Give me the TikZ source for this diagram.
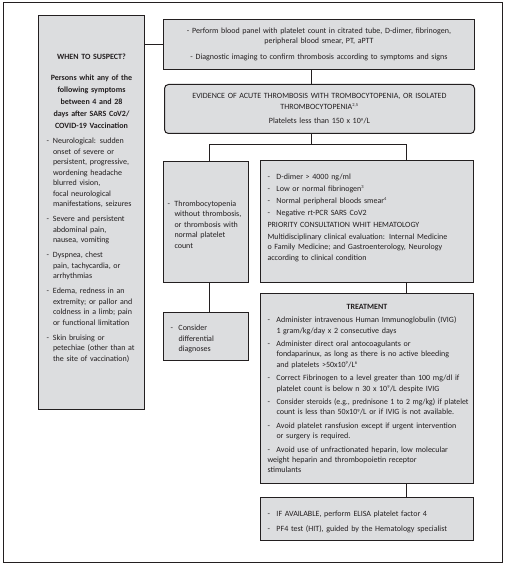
\documentclass[tikz,border=0pt]{standalone}
\usepackage{fontspec}
\setmainfont{Carlito}
\usepackage{xcolor}
\usepackage{graphicx}
\usepackage{tikz}
\usetikzlibrary{positioning}
\definecolor{ink}{RGB}{35,31,32}
\definecolor{boxgray}{RGB}{220,221,223}
\newcommand{\itm}[1][7pt]{\par\hangindent=#1\hangafter=1\makebox[#1][l]{-}\ignorespaces}
\newcommand{\sups}[1]{\textsuperscript{\fontsize{4.5}{5}\selectfont #1}}

\begin{document}
\begin{tikzpicture}[x=1pt,y=-1pt,line width=1pt,color=ink]
    \tikzstyle{box}=[draw=ink, fill=boxgray, anchor=north west, inner ysep=0pt, text=ink, font=\fontsize{8}{10.5}\selectfont, execute at begin node={\setlength{\parskip}{4pt}}]
    \useasboundingbox (0,0) rectangle (505,564);
    \draw (3,3) rectangle (502,562);

    \node [box, text width=90pt, inner xsep=8pt, minimum height=394pt, align=left,
        execute at begin node={\setlength{\parskip}{4.5pt}}] (susp) at (38,15) {%
        {\centering\bfseries WHEN TO SUSPECT?\par}
        \vspace{5pt}
        {\centering\bfseries\fontsize{8}{12}\selectfont Persons whit any of the\\ following symptoms\\ between 4 and 28\\ days after SARS CoV2/\\ COVID-19 Vaccination\par}
        \itm[6.5pt] Neurological: sudden\newline onset of severe or\newline persistent, progressive,\newline wordening headache\newline blurred vision,\newline focal neurological\newline manifestations, seizures
        \itm[6.5pt] Severe and persistent\newline abdominal pain,\newline nausea, vomiting
        \itm[6.5pt] Dyspnea, chest\newline pain, tachycardia, or\newline arrhythmias
        \itm[6.5pt] Edema, redness in an\newline extremity; or pallor and\newline coldness in a limb; pain\newline or functional limitation
        \itm[6.5pt] Skin bruising or\newline petechiae (other than at\newline the site of vaccination)
        \par\vspace{9pt}};

    \node [box, text width=303pt, inner xsep=4pt, minimum height=50pt, align=center,
        execute at begin node={\setlength{\parskip}{5.5pt}}] (panel) at (163,19) {%
        - Perform blood panel with platelet count in citrated tube, D-dimer, fibrinogen,\\ peripheral blood smear, PT, aPTT\par
        - Diagnostic imaging to confirm thrombosis according to symptoms and signs};

    \node [box, rounded corners=4pt, text width=302pt, inner xsep=4pt, minimum height=49pt, align=center] (evid) at (164,84) {%
        EVIDENCE OF ACUTE THROMBOSIS WITH TROMBOCYTOPENIA, OR ISOLATED\\ THROMBOCYTOPENIA\sups{2,5}\par
        Platelets less than 150 x 10\sups{9}/L};

    \node [box, text width=77pt, inner xsep=4pt, minimum height=121pt, align=left] (thromb) at (163,161) {%
        \itm[7pt] Thrombocytopenia\newline without thrombosis,\newline or thrombosis with\newline normal platelet\newline count
        \par\vspace{4pt}};

    \node [box, text width=71pt, inner xsep=7pt, minimum height=48pt, align=left] (diff) at (163,312) {%
        \itm[8pt] Consider\newline differential\newline diagnoses
        \par\vspace{4pt}};

    \node [box, text width=199pt, inner xsep=7pt, minimum height=122pt, align=left,
        execute at begin node={\setlength{\parskip}{1.5pt}}] (crit) at (260,160) {%
        \itm[9pt] D-dimer > 4000 ng/ml
        \itm[9pt] Low or normal fibrinogen\sups{3}
        \itm[9pt] Normal peripheral bloods smear\sups{4}
        \itm[9pt] Negative rt-PCR SARS CoV2
        \par PRIORITY CONSULTATION WHIT HEMATOLOGY
        \par Multidisciplinary clinical evaluation: Internal Medicine\\ o Family Medicine; and Gastroenterology, Neurology\\ according to clinical condition
        \par\vspace{14pt}};

    \node [box, text width=199pt, inner xsep=7pt, minimum height=190pt, align=left,
        font=\fontsize{8}{10.2}\selectfont, execute at begin node={\setlength{\parskip}{3.5pt}}] (treat) at (260,293) {%
        {\centering\bfseries TREATMENT\par}
        \itm[9pt] Administer intravenous Human Immunoglobulin (IVIG)\newline 1 gram/kg/day x 2 consecutive days
        \itm[9pt] Administer direct oral antocoagulants or\newline fondaparinux, as long as there is no active bleeding\newline and platelets >50x10\sups{9}/L\sups{6}
        \itm[9pt] Correct Fibrinogen to a level greater than 100 mg/dl if\newline platelet count is below n 30 x 10\sups{9}/L despite IVIG
        \itm[9pt] \resizebox{192pt}{\height}{Consider steroids (e.g., prednisone 1 to 2 mg/kg) if platelet}\newline count is less than 50x10\sups{9}/L or if IVIG is not available.
        \itm[9pt] Avoid platelet ransfusion except if urgent intervention\newline or surgery is required.
        \itm[9pt] Avoid use of unfractionated heparin, low molecular\newline weight heparin and thrombopoietin receptor\newline stimulants};

    \node [box, text width=199pt, inner xsep=7pt, minimum height=43pt, align=left] (elisa) at (260,497) {%
        \itm[9pt] IF AVAILABLE, perform ELISA platelet factor 4
        \itm[9pt] PF4 test (HIT), guided by the Hematology specialist
        \par\vspace{3pt}};

    \coordinate (split) at (311,145);
    \coordinate (lft) at (209,145);
    \coordinate (rgt) at (406,145);

    \draw (panel.west) -- (panel.west -| susp.east);
    \draw (panel.south -| split) -- (evid.north -| split);
    \draw (evid.south -| split) -- (split);
    \draw (thromb.north -| lft) -- (lft) -- (rgt) -- (crit.north -| rgt);
    \draw (thromb.south -| lft) -- (diff.north -| lft);
    \draw (crit.south -| rgt) -- (treat.north -| rgt);
    \draw (treat.south -| rgt) -- (elisa.north -| rgt);
\end{tikzpicture}
\end{document}
